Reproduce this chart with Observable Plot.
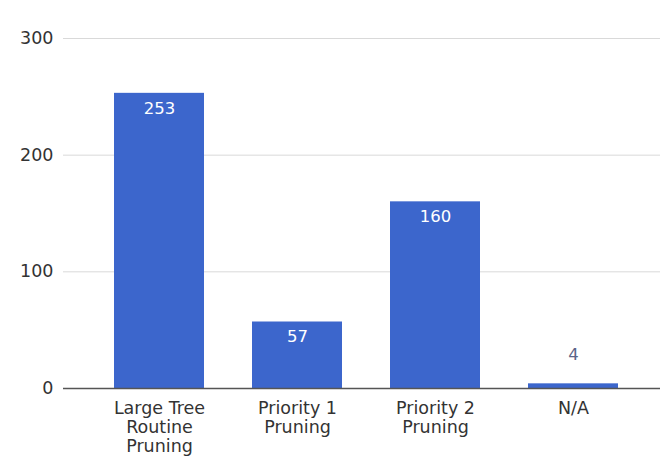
<!DOCTYPE html>
<html>
<head>
<meta charset="utf-8">
<script src="https://cdn.jsdelivr.net/npm/d3@7"></script>
<script src="https://cdn.jsdelivr.net/npm/@observablehq/plot@0.6"></script>
<style>
  html, body { margin: 0; padding: 0; background: #fff; }
  #chart { width: 660px; height: 462px; }
</style>
</head>
<body>
<div id="chart"></div>
<script>
const categories = ["Large Tree Routine Pruning", "Priority 1 Pruning", "Priority 2 Pruning", "N/A"];
const tickLabels = [["Large Tree", "Routine", "Pruning"], ["Priority 1", "Pruning"], ["Priority 2", "Pruning"], ["N/A"]];
const values = [253, 57, 160, 4];
const yTicks = [0, 100, 200, 300];

const data = categories.map((c, i) => ({category: c, value: values[i]}));
const lines = categories.flatMap((c, i) => tickLabels[i].map((t, j) => ({category: c, text: t, row: j})));
const big = data.filter(d => d.value >= 20);
const small = data.filter(d => d.value < 20);

const font = "DejaVu Sans, sans-serif";
const blue = "#3c66cc";

const labelRows = [0, 1, 2].map(r =>
  Plot.text(lines.filter(d => d.row === r), {
    x: "category", frameAnchor: "bottom", dy: 20 + r * 19, text: "text",
    fill: "#333", fontSize: 17.5, fontFamily: font, lineAnchor: "middle"
  })
);

const chart = Plot.plot({
  width: 660,
  height: 462,
  marginLeft: 63,
  marginRight: 0,
  marginTop: 38,
  marginBottom: 74,
  style: {fontFamily: font, background: "#fff"},
  x: {domain: categories, paddingInner: 0.35, paddingOuter: 0.33, align: 0.55, axis: null},
  y: {domain: [0, 300]},
  marks: [
    Plot.gridY(yTicks, {stroke: "#d9d9d9", strokeOpacity: 1, strokeWidth: 1}),
    Plot.axisY(yTicks, {tickSize: 0, tickPadding: 10, fontSize: 17.5, fill: "#333", label: null}),
    Plot.barY(data, {x: "category", y: "value", fill: blue}),
    Plot.ruleY([0], {stroke: "#555", strokeWidth: 1.5}),
    ...labelRows,
    Plot.text(big, {x: "category", y: "value", text: d => String(d.value), dy: 15, fill: "#fff",
                    fontSize: 16.5, fontFamily: font}),
    Plot.text(small, {x: "category", y: "value", text: d => String(d.value), dy: -29, fill: "#5b6488",
                      fontSize: 16.5, fontFamily: font})
  ]
});
document.getElementById("chart").appendChild(chart);
</script>
</body>
</html>
